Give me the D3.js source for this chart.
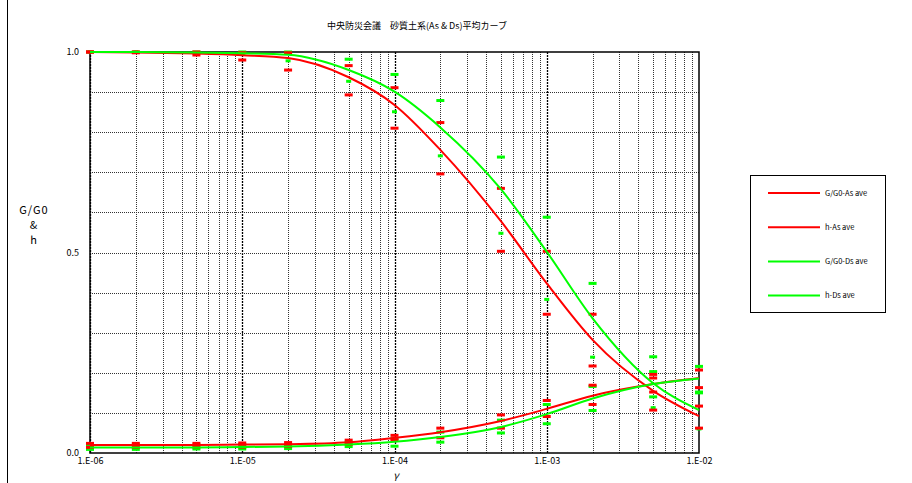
<!DOCTYPE html>
<html><head><meta charset="utf-8">
<script src="https://cdn.jsdelivr.net/npm/d3@7"></script>
<style>
body{margin:0;background:#fff;}
svg{display:block;}
text{font-family:"Noto Sans CJK JP","DejaVu Sans",sans-serif;fill:#000;}
</style></head>
<body>
<svg id="c" width="912" height="483"></svg>
<script>
const strains = [1e-6,2e-6,5e-6,1e-5,2e-5,5e-5,1e-4,2e-4,5e-4,1e-3,2e-3,5e-3,1e-2];
// average curves
const gAsAve = [1.0,0.999,0.996,0.992,0.985,0.937,0.868,0.756,0.578,0.423,0.282,0.155,0.092];
const hAsAve = [0.020,0.020,0.020,0.021,0.022,0.027,0.038,0.052,0.080,0.110,0.143,0.172,0.187];
const gDsAve = [1.0,1.0,0.999,0.997,0.993,0.955,0.901,0.812,0.658,0.502,0.336,0.174,0.107];
const hDsAve = [0.014,0.014,0.014,0.015,0.016,0.021,0.028,0.040,0.065,0.097,0.136,0.172,0.186];
// range markers
const gAsUp = [1.0,1.0,1.0,0.998,0.998,0.966,0.911,0.824,0.660,0.503,0.346,0.196,0.117];
const gAsLo = [1.0,0.998,0.9925,0.980,0.955,0.893,0.810,0.696,0.503,0.346,0.217,0.107,0.062];
const gDsUp = [1.0,1.0,1.0,1.0,1.0,0.982,0.944,0.879,0.738,0.588,0.423,0.240,0.150];
const gDsLo = [1.0,1.0,0.998,0.994,0.978,0.927,0.851,0.741,0.548,0.383,0.239,0.113,0.060];
const hAsUp = [0.024,0.024,0.024,0.025,0.026,0.032,0.044,0.062,0.095,0.131,0.169,0.187,0.207];
const hAsLo = [0.014,0.014,0.015,0.015,0.016,0.022,0.033,0.038,0.062,0.091,0.121,0.152,0.163];
const hDsUp = [0.020,0.020,0.020,0.021,0.021,0.027,0.036,0.052,0.082,0.121,0.166,0.203,0.216];
const hDsLo = [0.009,0.009,0.010,0.010,0.011,0.016,0.017,0.027,0.050,0.073,0.106,0.140,0.152];
const xTickLabels = ["1.E-06","1.E-05","1.E-04","1.E-03","1.E-02"];
const yTickLabels = ["0.0","0.5","1.0"];
const legendNames = ["G/G0-As ave","h-As ave","G/G0-Ds ave","h-Ds ave"];
const title = "中央防災会議　砂質土系(As & Ds)平均カーブ";

const RED = "#ff0000", GREEN = "#00ff00";
const svg = d3.select("#c");
const L = 90, R = 699, T = 52, B = 453;
const x = d3.scaleLog().domain([1e-6,1e-2]).range([L,R]);
const y = d3.scaleLinear().domain([0,1]).range([B,T]);

// outer frame (left edge)
svg.append("line").attr("x1",7.5).attr("x2",7.5).attr("y1",0).attr("y2",483)
  .attr("stroke","#000").attr("stroke-width",1);

// grid
const g = svg.append("g");
const vt = [];
for (let e=-6; e<-2; e++) for (let k=1; k<=9; k++) vt.push({v:k*Math.pow(10,e), major:k===1});
vt.forEach(d=>{
  g.append("line").attr("x1",Math.round(x(d.v))+0.5).attr("x2",Math.round(x(d.v))+0.5)
   .attr("y1",T).attr("y2",B)
   .attr("stroke", d.major?"#000":"#333")
   .attr("stroke-width", d.major?1.3:1)
   .attr("stroke-dasharray", d.major?"2,1":"1,1");
});
d3.range(1,10).forEach(i=>{
  const yy = Math.round(y(i/10))+0.5;
  g.append("line").attr("x1",L).attr("x2",R).attr("y1",yy).attr("y2",yy)
   .attr("stroke","#333").attr("stroke-dasharray","1,1");
});
// plot border
svg.append("rect").attr("x",L).attr("y",T).attr("width",R-L).attr("height",B-T)
  .attr("fill","none").attr("stroke","#000").attr("stroke-width",1.5);

// axes labels
const xAxis = d3.axisBottom(x).tickValues([1e-6,1e-5,1e-4,1e-3,1e-2])
  .tickFormat((d,i)=>xTickLabels[i]).tickSize(0).tickPadding(5);
const xa = svg.append("g").attr("transform",`translate(0,${B})`).call(xAxis);
xa.select(".domain").remove();
xa.selectAll("text").attr("font-size",9).attr("font-family","'Noto Sans CJK JP',sans-serif").attr("fill","#000");
const yAxis = d3.axisLeft(y).tickValues([0,0.5,1]).tickFormat((d,i)=>yTickLabels[i]).tickSize(0).tickPadding(11);
const ya = svg.append("g").attr("transform",`translate(${L},0)`).call(yAxis);
ya.select(".domain").remove();
ya.selectAll("text").attr("font-size",9).attr("font-family","'Noto Sans CJK JP',sans-serif").attr("fill","#000");

svg.append("text").attr("x",417).attr("y",29).attr("text-anchor","middle").attr("font-size",9).text(title);
svg.append("text").attr("x",396).attr("y",479).attr("text-anchor","middle").attr("font-size",10).attr("font-style","italic").text("γ");
[["G/G0",214],["&",229],["h",244]].forEach(([t,yy])=>{
  svg.append("text").attr("x",34).attr("y",yy).attr("text-anchor","middle").attr("font-size",11)
    .attr("letter-spacing",1)
    .attr("font-family","'Liberation Sans',Arial,sans-serif").text(t);
});

// markers
const mk = svg.append("g");
function markers(vals,color,w){
  mk.selectAll(null).data(strains.map((s,i)=>[s,vals[i]])).enter().append("rect")
    .attr("x",d=>x(d[0])-w/2).attr("y",d=>y(d[1])-1.5).attr("width",w).attr("height",3)
    .attr("fill",color);
}
markers(hDsLo,GREEN,8); markers(hDsUp,GREEN,8);
markers(hAsLo,RED,8); markers(hAsUp,RED,8);
markers(gDsUp,GREEN,8); markers(gDsLo,GREEN,5);
markers(gAsUp,RED,8); markers(gAsLo,RED,8);

// curves
const line = d3.line().x(d=>x(d[0])).y(d=>y(d[1])).curve(d3.curveMonotoneX);
[[gAsAve,RED],[hAsAve,RED],[gDsAve,GREEN],[hDsAve,GREEN]].forEach(([vals,c])=>{
  svg.append("path").datum(strains.map((s,i)=>[s,vals[i]])).attr("d",line)
    .attr("fill","none").attr("stroke",c).attr("stroke-width",2);
});

// legend
const lg = svg.append("g");
lg.append("rect").attr("x",750.5).attr("y",175.5).attr("width",135).attr("height",137)
  .attr("fill","#fff").attr("stroke","#000");
const lcol=[RED,RED,GREEN,GREEN];
legendNames.forEach((n,i)=>{
  const yy = 193 + i*34.2;
  lg.append("line").attr("x1",768).attr("x2",820).attr("y1",yy).attr("y2",yy).attr("stroke",lcol[i]).attr("stroke-width",2);
  lg.append("text").attr("x",825).attr("y",yy+2.8).attr("font-size",7.5).text(n);
});
</script>
</body></html>
